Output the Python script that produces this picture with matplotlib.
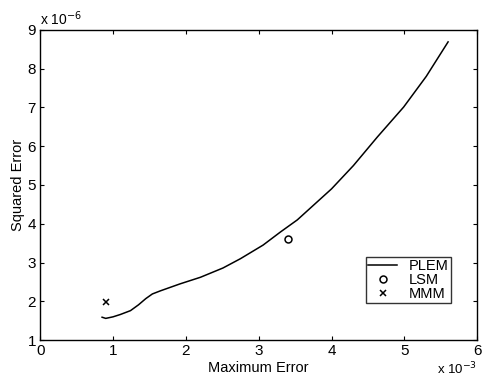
import matplotlib.pyplot as plt

plt.rcParams['font.family'] = ['Liberation Sans', 'DejaVu Sans']

# PLEM curve (x in 1e-3, y in 1e-6)
plem_x = [0.85, 0.9, 1.0, 1.1, 1.24, 1.35, 1.45, 1.54, 1.65, 1.92, 2.2, 2.51, 2.75,
          3.06, 3.30, 3.53, 4.0, 4.3, 4.63, 4.99, 5.3, 5.6]
plem_y = [1.59, 1.56, 1.60, 1.66, 1.76, 1.91, 2.07, 2.19, 2.27, 2.45, 2.62, 2.86, 3.10,
          3.45, 3.79, 4.10, 4.90, 5.50, 6.24, 7.01, 7.80, 8.69]
lsm_x = [3.4]
lsm_y = [3.6]
mmm_x = [0.9]
mmm_y = [1.98]

fig = plt.figure(figsize=(4.84, 3.83), dpi=100)
ax = fig.add_axes([0.083, 0.112, 0.903, 0.81])

ax.plot(plem_x, plem_y, color='black', lw=1.1, label='PLEM')
ax.plot(lsm_x, lsm_y, 'o', mfc='none', mec='black', ms=5, mew=1.1, label='LSM')
ax.plot(mmm_x, mmm_y, 'x', color='black', ms=5, mew=1.1, label='MMM')

ax.set_xlim(0, 6)
ax.set_ylim(1, 9)
ax.set_xticks(range(0, 7))
ax.set_yticks(range(1, 10))
ax.tick_params(direction='in', top=True, right=True, labelsize=11, length=3, pad=3)
for s in ax.spines.values():
    s.set_linewidth(1.0)

ax.set_xlabel('Maximum Error', fontsize=10.5, labelpad=2)
ax.set_ylabel('Squared Error', fontsize=10.5, labelpad=2)

ax.text(0.0, 1.005, r'x 10$^{-6}$', transform=ax.transAxes, fontsize=10, va='bottom', ha='left')
ax.text(1.0, -0.068, r'x 10$^{-3}$', transform=ax.transAxes, fontsize=9.5, va='top', ha='right')

leg = ax.legend(loc='lower right', bbox_to_anchor=(0.94, 0.12), fontsize=10.5, frameon=True,
                fancybox=False, edgecolor='black', handlelength=2.0, handletextpad=0.8,
                labelspacing=0.0, borderpad=0.15, borderaxespad=0)
leg.get_frame().set_linewidth(1.0)

fig.savefig('out.png', dpi=100)
